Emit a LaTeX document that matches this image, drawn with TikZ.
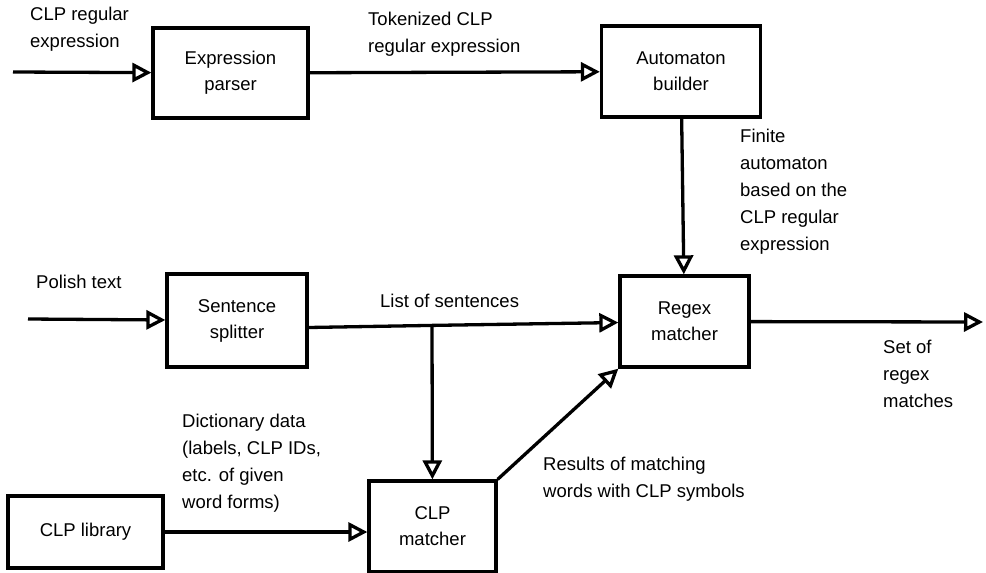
\documentclass[tikz,border=0pt]{standalone}
\usepackage{fontspec}
\setmainfont{Liberation Sans}
\usetikzlibrary{arrows.meta}
\begin{document}
\begin{tikzpicture}[x=1pt,y=-1pt]
	\tikzstyle{blk}=[draw=black,line width=3.3pt,align=center,minimum height=91pt,font=\fontsize{18.5}{26}\selectfont]
	\tikzstyle{lbl}=[align=left,anchor=north west,inner sep=0pt,font=\fontsize{18.5}{27}\selectfont]
	\useasboundingbox (0,0) rectangle (986,573);
	\begin{scope}
	\node[blk,minimum width=155pt,minimum height=90pt] (parser) at (230.5,73) {Expression\\parser};
	\node[blk,minimum width=159pt] (builder) at (681,71.5) {Automaton\\builder};
	\node[blk,minimum width=140pt,minimum height=93pt] (splitter) at (237,320.5) {Sentence\\splitter};
	\node[blk,minimum width=129pt] (regex) at (684.5,321.5) {Regex\\matcher};
	\node[blk,minimum width=155pt,minimum height=72pt] (library) at (85.5,532) {CLP library};
	\node[blk,minimum width=127pt] (clpm) at (432.5,526.5) {CLP\\matcher};
	
	\coordinate (in1) at (13,72);
	\coordinate (in2) at (28,319);
	\coordinate (out1) at (983,322);
	\coordinate (branch) at (432,325.4);
	\end{scope}
	
	\node[lbl] (l-in1) at (30,7) {CLP regular\\expression};
	\node[lbl] (l-tok) at (368,12) {Tokenized CLP\\regular expression};
	\node[lbl] (l-fa) at (740,129) {Finite\\automaton\\based on the\\CLP regular\\expression};
	\node[lbl] (l-in2) at (36,275) {Polish text};
	\node[lbl] (l-sent) at (380,294) {List of sentences};
	\node[lbl] (l-out1) at (883,340) {Set of\\regex\\matches};
	\node[lbl] (l-dict) at (182,414) {Dictionary data\\(labels, CLP IDs,\\etc. of given\\word forms)};
	\node[lbl] (l-res) at (543,457) {Results of matching\\words with CLP symbols};
	
	\path[-{Triangle[open,length=19pt,width=19pt]},line width=3.3pt]
	(in1) edge (parser)
	(parser) edge (builder)
	(builder) edge (regex)
	(in2) edge (splitter)
	([yshift=-7pt]splitter.east) edge[-] (branch)
	(branch) edge (regex)
	(branch) edge (clpm)
	(library.east) edge (library.east -| clpm.west)
	(clpm.north east) edge (regex.south west)
	(regex) edge (out1)
	;
\end{tikzpicture}
\end{document}
